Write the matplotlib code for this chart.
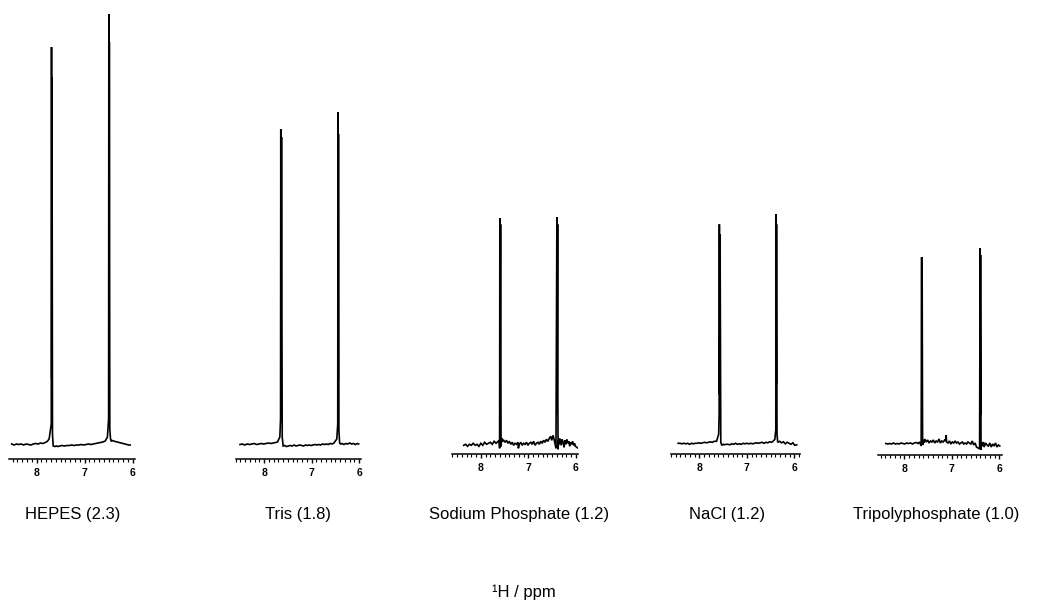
import matplotlib
matplotlib.use("Agg")
import matplotlib.pyplot as plt
from matplotlib.ticker import MultipleLocator

plt.rcParams['font.family'] = ['Liberation Sans', 'DejaVu Sans']

# ---------------- data (intensity in arbitrary units above the axis line) -------------
names = ["HEPES (2.3)", "Tris (1.8)", "Sodium Phosphate (1.2)", "NaCl (1.2)", "Tripolyphosphate (1.0)"]

hepes_ppm = [8.52, 8.47, 8.42, 8.37, 8.32, 8.27, 8.22, 8.17, 8.12, 8.07, 8.02, 7.97, 7.92, 7.87,
             7.82, 7.78, 7.74, 7.695, 7.69, 7.685, 7.68, 7.67, 7.655,
             7.62, 7.59, 7.56, 7.52, 7.47, 7.42, 7.37, 7.32, 7.27, 7.22, 7.17, 7.12, 7.07, 7.02,
             6.97, 6.92, 6.87, 6.82, 6.77, 6.72, 6.67, 6.62, 6.57, 6.525, 6.50, 6.495, 6.49,
             6.485, 6.475, 6.46, 6.445, 6.43, 6.40, 6.36, 6.32, 6.28, 6.24, 6.20, 6.16, 6.12,
             6.08, 6.05]
hepes_int = [0.15, 0.14, 0.15, 0.145, 0.15, 0.14, 0.15, 0.145, 0.14, 0.15, 0.155, 0.15, 0.16, 0.155,
             0.165, 0.175, 0.20, 0.35, 4.12, 0.8, 3.82, 0.25, 0.13,
             0.125, 0.13, 0.125, 0.13, 0.135, 0.13, 0.135, 0.135, 0.14, 0.135, 0.14, 0.14, 0.145, 0.14,
             0.145, 0.15, 0.145, 0.15, 0.155, 0.16, 0.165, 0.17, 0.18, 0.22, 0.40, 4.45, 0.9,
             4.17, 0.30, 0.20, 0.18, 0.185, 0.18, 0.175, 0.17, 0.165, 0.16, 0.155, 0.15, 0.145,
             0.14, 0.14]

tris_ppm = [8.51, 8.46, 8.41, 8.36, 8.31, 8.26, 8.21, 8.16, 8.11, 8.06, 8.01, 7.96, 7.91, 7.86,
            7.81, 7.76, 7.72, 7.67, 7.655, 7.65, 7.645, 7.635, 7.62,
            7.60, 7.57, 7.53, 7.49, 7.45, 7.41, 7.37, 7.33, 7.29, 7.25, 7.21, 7.17, 7.13, 7.09,
            7.05, 7.01, 6.97, 6.93, 6.89, 6.85, 6.81, 6.77, 6.73, 6.69, 6.65, 6.61, 6.57, 6.53,
            6.47, 6.45, 6.445, 6.44, 6.435, 6.425, 6.41, 6.39, 6.36, 6.32, 6.28, 6.24, 6.20,
            6.16, 6.12, 6.08, 6.04, 6.01]
tris_int = [0.145, 0.15, 0.14, 0.15, 0.145, 0.15, 0.155, 0.145, 0.15, 0.155, 0.15, 0.155, 0.16, 0.155,
            0.16, 0.165, 0.17, 0.22, 0.40, 3.30, 0.7, 3.22, 0.22,
            0.13, 0.135, 0.125, 0.13, 0.135, 0.13, 0.14, 0.13, 0.135, 0.14, 0.135, 0.13, 0.14, 0.135,
            0.14, 0.135, 0.14, 0.145, 0.14, 0.145, 0.14, 0.15, 0.145, 0.15, 0.145, 0.155, 0.15, 0.16,
            0.20, 0.35, 3.47, 0.8, 3.25, 0.28, 0.16, 0.15, 0.155, 0.145, 0.155, 0.15, 0.16,
            0.15, 0.155, 0.145, 0.155, 0.15]

phos_ppm = [8.36, 8.32, 8.28, 8.24, 8.20, 8.16, 8.12, 8.08, 8.04, 8.00, 7.96, 7.92, 7.88, 7.84,
            7.80, 7.76, 7.72, 7.68, 7.615, 7.605, 7.60, 7.595, 7.585, 7.575,
            7.56, 7.54, 7.52, 7.49, 7.46, 7.43, 7.40, 7.37, 7.34, 7.31, 7.28, 7.25, 7.22, 7.21,
            7.19, 7.16, 7.13, 7.10, 7.07, 7.04, 7.01, 6.98, 6.95, 6.92, 6.89, 6.86, 6.83, 6.80,
            6.77, 6.74, 6.71, 6.68, 6.65, 6.62, 6.59, 6.56, 6.53, 6.51, 6.48, 6.45, 6.42,
            6.40, 6.395, 6.385, 6.38, 6.375, 6.365, 6.355, 6.34, 6.31, 6.29, 6.27, 6.25, 6.23,
            6.21, 6.19, 6.17, 6.15, 6.13, 6.11, 6.09, 6.07, 6.05, 6.03, 6.01, 5.98, 5.95]
phos_int = [0.09, 0.10, 0.08, 0.10, 0.09, 0.11, 0.09, 0.10, 0.08, 0.11, 0.09, 0.12, 0.10, 0.11,
            0.12, 0.10, 0.13, 0.11, 0.14, 0.06, 2.36, 0.5, 2.30, 0.08,
            0.16, 0.13, 0.14, 0.12, 0.14, 0.11, 0.13, 0.10, 0.12, 0.09, 0.11, 0.10, 0.12, 0.06,
            0.10, 0.12, 0.09, 0.11, 0.10, 0.12, 0.09, 0.11, 0.12, 0.10, 0.13, 0.09, 0.11, 0.12,
            0.10, 0.13, 0.11, 0.14, 0.12, 0.15, 0.13, 0.16, 0.18, 0.14, 0.19, 0.13, 0.06,
            2.37, 0.4, 2.30, 0.5, 0.05, 0.14, 0.10, 0.16, 0.09, 0.15, 0.12, 0.07, 0.14,
            0.10, 0.15, 0.11, 0.13, 0.08, 0.12, 0.10, 0.13, 0.09, 0.11, 0.08, 0.07, 0.06]

nacl_ppm = [8.45, 8.41, 8.37, 8.33, 8.29, 8.25, 8.21, 8.17, 8.13, 8.09, 8.05, 8.01, 7.97, 7.93,
            7.89, 7.85, 7.81, 7.77, 7.73, 7.69, 7.64, 7.595, 7.585, 7.58, 7.575, 7.565, 7.55,
            7.53, 7.50, 7.48, 7.44, 7.40, 7.36, 7.32, 7.28, 7.24, 7.20, 7.16, 7.12, 7.08, 7.04,
            7.00, 6.96, 6.92, 6.88, 6.84, 6.80, 6.76, 6.72, 6.68, 6.64, 6.60, 6.56, 6.52, 6.48,
            6.45, 6.41, 6.39, 6.385, 6.38, 6.375, 6.365, 6.35, 6.31, 6.27, 6.23, 6.19, 6.15,
            6.11, 6.07, 6.03, 5.99, 5.95]
nacl_int = [0.11, 0.11, 0.105, 0.11, 0.105, 0.11, 0.10, 0.11, 0.105, 0.11, 0.11, 0.115, 0.11, 0.115,
            0.12, 0.115, 0.12, 0.125, 0.12, 0.13, 0.13, 0.20, 0.40, 2.30, 0.6, 2.20, 0.12,
            0.09, 0.10, 0.095, 0.10, 0.10, 0.095, 0.105, 0.10, 0.11, 0.10, 0.105, 0.10, 0.11, 0.105,
            0.11, 0.105, 0.11, 0.105, 0.11, 0.115, 0.11, 0.115, 0.12, 0.11, 0.12, 0.115, 0.125, 0.12,
            0.13, 0.15, 0.25, 2.40, 0.7, 2.30, 0.20, 0.12, 0.13, 0.115, 0.125, 0.105, 0.12,
            0.11, 0.10, 0.115, 0.09, 0.095]

tppa_ppm = [8.39, 8.35, 8.31, 8.27, 8.23, 8.19, 8.15, 8.11, 8.07, 8.03, 7.99, 7.95, 7.91, 7.87,
            7.83, 7.79, 7.75, 7.71, 7.68, 7.645, 7.635, 7.63, 7.625, 7.615, 7.60, 7.585, 7.57,
            7.54, 7.51, 7.48, 7.45, 7.42, 7.39, 7.36, 7.33, 7.30, 7.27, 7.24, 7.21, 7.18, 7.15,
            7.13, 7.12, 7.11, 7.08, 7.05, 7.02, 6.99, 6.96, 6.93, 6.90, 6.87, 6.84, 6.81, 6.78,
            6.75, 6.72, 6.69, 6.66, 6.63, 6.60, 6.57, 6.54, 6.51, 6.48, 6.415, 6.405, 6.40,
            6.395, 6.385, 6.37, 6.355, 6.335, 6.32, 6.29, 6.26, 6.23, 6.20, 6.17, 6.14, 6.11,
            6.08, 6.05, 6.02, 5.99]
tppa_int = [0.115, 0.11, 0.115, 0.11, 0.12, 0.11, 0.115, 0.11, 0.12, 0.115, 0.11, 0.12, 0.115, 0.12,
            0.11, 0.12, 0.125, 0.115, 0.13, 0.09, 1.98, 0.5, 1.92, 0.10, 0.15, 0.12, 0.16,
            0.13, 0.15, 0.12, 0.14, 0.13, 0.15, 0.12, 0.14, 0.13, 0.16, 0.12, 0.14, 0.13, 0.15,
            0.14, 0.20, 0.13, 0.12, 0.14, 0.11, 0.13, 0.12, 0.14, 0.12, 0.13, 0.11, 0.12, 0.13,
            0.11, 0.12, 0.11, 0.13, 0.12, 0.11, 0.14, 0.10, 0.12, 0.08, 0.06, 2.07, 0.4,
            2.00, 0.05, 0.12, 0.09, 0.13, 0.08, 0.12, 0.10, 0.09, 0.12, 0.08, 0.11, 0.09,
            0.12, 0.08, 0.10, 0.09]

spectra_ppm = [hepes_ppm, tris_ppm, phos_ppm, nacl_ppm, tppa_ppm]
spectra_int = [hepes_int, tris_int, phos_int, nacl_int, tppa_int]
x_label = "¹H / ppm"
major_ticks = [8, 7, 6]

# ---------------- layout (pixel geometry of the reference) ----------------
W, H = 1047, 602
panels = [  # left px, right px, axis-line y px, xlim
    (9.3, 135.0, 459.0, (8.57, 5.95)),
    (235.7, 361.0, 459.0, (8.60, 5.96)),
    (452.3, 578.3, 454.3, (8.60, 5.95)),
    (671.0, 800.0, 454.3, (8.60, 5.88)),
    (877.7, 1001.7, 455.0, (8.56, 5.95)),
]
label_x = [73, 298, 519, 727, 936]
label_y = 515

fig = plt.figure(figsize=(W / 100, H / 100), dpi=100)
for i, (L, R, S, xl) in enumerate(panels):
    ax = fig.add_axes([L / W, (H - S) / H, (R - L) / W, S / H])
    ax.plot(spectra_ppm[i], spectra_int[i], color='black', lw=1.2, solid_joinstyle='miter')
    ax.set_xlim(*xl)
    ax.set_ylim(0, S / 100.0)
    for sp in ('top', 'left', 'right'):
        ax.spines[sp].set_visible(False)
    ax.spines['bottom'].set_linewidth(1.1)
    ax.set_yticks([])
    ax.set_xticks(major_ticks)
    ax.xaxis.set_minor_locator(MultipleLocator(0.1))
    ax.tick_params(axis='x', which='major', length=3.2, width=1.0, pad=3.0,
                   labelsize=7.5, direction='out')
    ax.tick_params(axis='x', which='minor', length=1.8, width=0.8, direction='out')
    for t in ax.get_xticklabels():
        t.set_fontweight('bold')
    ax.patch.set_alpha(0)
    fig.text(label_x[i] / W, 1 - label_y / H, names[i], ha='center', va='center', fontsize=12)

fig.text(524 / W, 1 - 592 / H, x_label, ha='center', va='center', fontsize=12)

fig.savefig("out.png", dpi=100)
